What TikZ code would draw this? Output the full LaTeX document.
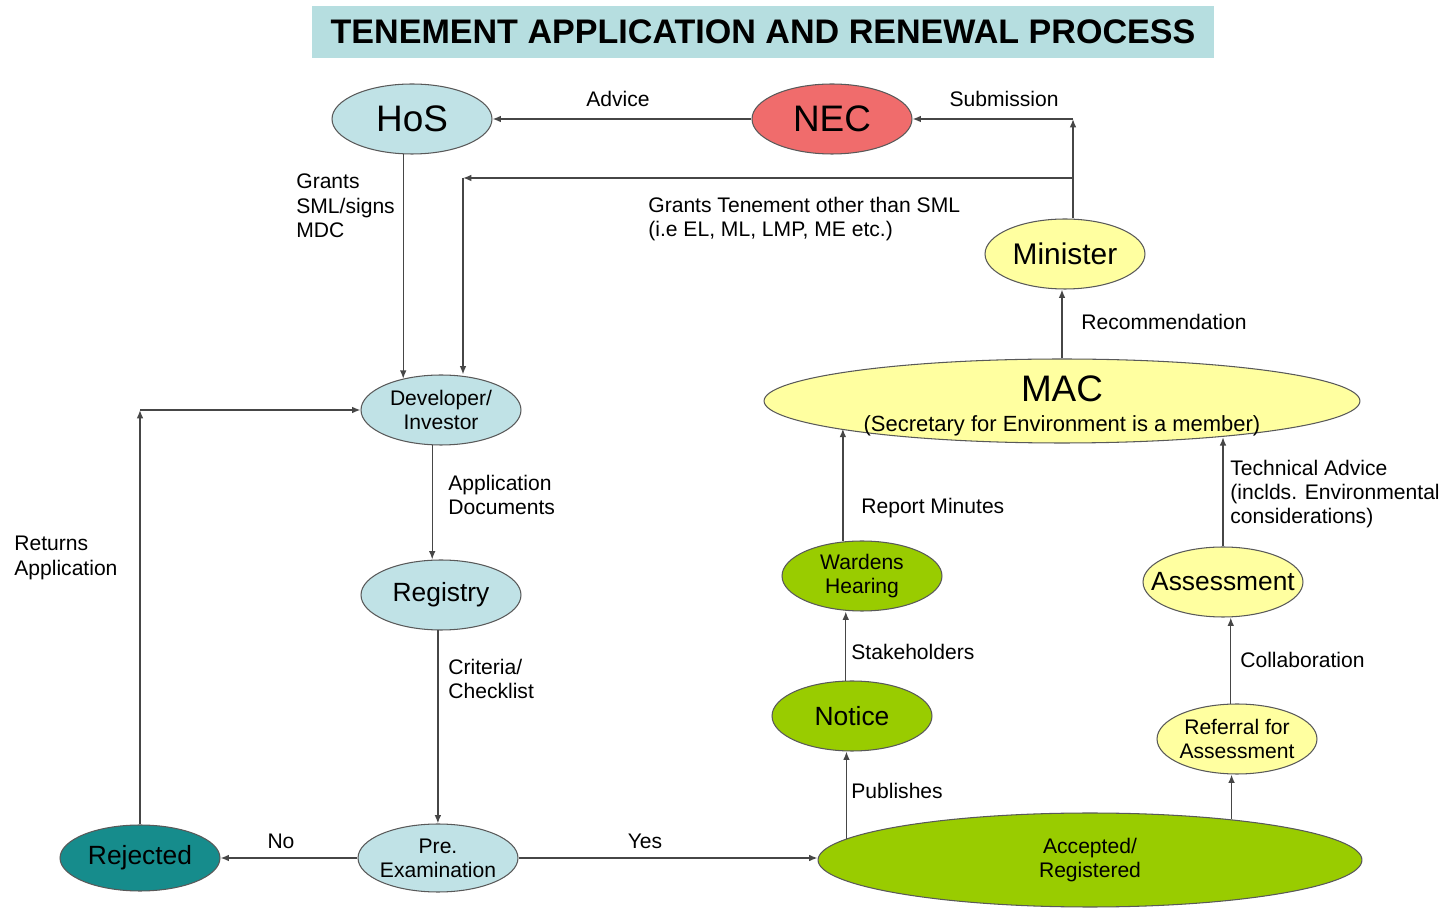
\documentclass[tikz,border=0pt]{standalone}
\usepackage{fontspec}
\setsansfont{Liberation Sans}
\usepackage{xcolor}
\definecolor{paleblue}{RGB}{192,226,230}
\definecolor{salmon}{RGB}{240,108,108}
\definecolor{paleyellow}{RGB}{255,255,160}
\definecolor{leafgreen}{RGB}{153,204,0}
\definecolor{darkteal}{RGB}{22,140,140}
\definecolor{titlebg}{RGB}{182,222,224}
\definecolor{linegray}{RGB}{70,70,70}
\usepackage{tikz}
\usetikzlibrary{shapes.geometric, arrows.meta}

\begin{document}
\begin{tikzpicture}[
    x=0.02cm, y=-0.02cm,
    oval/.style={
      ellipse,
      draw=linegray!90,
      line width=0.6pt,
      inner xsep=-0.5cm,
      inner ysep=-0.2cm,
      minimum width=3.2cm,
      minimum height=1.4cm,
      align=center,
      font=\sffamily\fontsize{12}{13.7}\selectfont
    },
    bluenode/.style={oval, fill=paleblue},
    rednode/.style={oval, fill=salmon},
    yellownode/.style={oval, fill=paleyellow},
    greennode/.style={oval, fill=leafgreen},
    tealnode/.style={oval, fill=darkteal},
    titlebox/.style={
      rectangle,
      fill=titlebg,
      minimum width=18.06cm,
      minimum height=1.04cm,
      font=\sffamily\bfseries\fontsize{19.4}{22}\selectfont
    },
    lbl/.style={
      inner sep=0pt,
      align=left,
      font=\sffamily\fontsize{12}{13.9}\selectfont
    },
    arrow/.style={
      -{Latex[length=4.8pt,width=3.8pt]},
      draw=linegray,
      line width=0.8pt
    }
  ]

    \useasboundingbox (0,0) rectangle (1445,908);

    % Title
    \node (title) [titlebox] at (763,32) {TENEMENT APPLICATION AND RENEWAL PROCESS};

    % Top row
    \node (hos) [bluenode, font=\sffamily\fontsize{21}{24}\selectfont] at (412,119) {HoS};
    \node (nec) [rednode, font=\sffamily\fontsize{21}{24}\selectfont] at (832,119) {NEC};
    \node (minister) [yellownode, font=\sffamily\fontsize{17}{20}\selectfont] at (1065,254) {Minister};
    \node (mac) [yellownode, minimum width=11.92cm, minimum height=1.68cm,
      font=\sffamily\fontsize{12.5}{17.3}\selectfont] at (1062,401)
      {\rule{0pt}{20.5pt}{\fontsize{21}{21}\selectfont MAC}\\(Secretary for Environment is a member)};

    % Left column
    \node (dev) [bluenode] at (441,410) {Developer/\\Investor};
    \node (registry) [bluenode, font=\sffamily\fontsize{15}{18}\selectfont] at (441,595) {Registry};
    \node (preexam) [bluenode, minimum height=1.36cm] at (438,858) {Pre.\\Examination};
    \node (rejected) [tealnode, minimum height=1.32cm, font=\sffamily\fontsize{15}{18}\selectfont] at (140,858) {Rejected};

    % Right side
    \node (wardens) [greennode] at (862,576) {Wardens\\Hearing};
    \node (notice) [greennode, font=\sffamily\fontsize{15}{18}\selectfont] at (852,716) {Notice};
    \node (assessment) [yellownode, font=\sffamily\fontsize{15}{18}\selectfont] at (1223,582) {Assessment};
    \node (referral) [yellownode] at (1237,739) {Referral for\\Assessment};
    \node (accepted) [greennode, minimum width=10.88cm, minimum height=1.88cm] at (1090,860) {Accepted/\\Registered};

    % Corners
    \coordinate (subm) at (1073,119);
    \coordinate (tjoin) at (1073,178);
    \coordinate (tcorner) at (463,178);
    \coordinate (retcorner) at (rejected.north |- dev.west);

    % Connections
    \draw [arrow] (nec) -- (hos);
    \draw [arrow] (minister.north -| subm) -- (subm);
    \draw [arrow] (subm) -- (nec);
    \draw [arrow] (tjoin) -- (tcorner);
    \draw [arrow] (tcorner) -- (tcorner |- dev.north);
    \draw [arrow] (hos.-104) -- (hos.-104 |- dev.141);
    \draw [arrow] (dev.-104) -- (dev.-104 |- registry.north);
    \draw [arrow] (registry.-95) -- (registry.-95 |- preexam.north);
    \draw [arrow] (preexam) -- (rejected);
    \draw [arrow] (preexam.east) -- (preexam.east -| accepted.west);
    \draw [arrow] (rejected.north) -- (retcorner);
    \draw [arrow] (retcorner) -- (dev.west);
    \draw [arrow] (accepted.175) -- (accepted.175 |- notice.south);
    \draw [arrow] (notice.100) -- (notice.100 |- wardens.south);
    \draw [arrow] (wardens.119) -- (wardens.119 |- mac.-173);
    \draw [arrow] (accepted.16) -- (accepted.16 |- referral.south);
    \draw [arrow] (referral.100) -- (referral.100 |- assessment.south);
    \draw [arrow] (assessment.north) -- (assessment.north |- mac.-13);
    \draw [arrow] (mac.north) -- (mac.north |- minister.south);

    % Labels
    \node (advicelbl) [lbl] at (618,99) {Advice};
    \node (submlbl) [lbl] at (1004,99) {Submission};
    \node (smllbl) [lbl, anchor=west] at (296,206) {Grants\\SML/signs\\MDC};
    \node (tenlbl) [lbl, anchor=west] at (648,219) {Grants Tenement other than SML\\(i.e EL, ML, LMP, ME etc.)};
    \node (applbl) [lbl, anchor=west] at (448,495) {Application\\Documents};
    \node (critlbl) [lbl, anchor=west] at (448,679) {Criteria/\\Checklist};
    \node (retlbl) [lbl, anchor=west] at (14,558) {Returns\\Application};
    \node (nolbl) [lbl] at (281,841) {No};
    \node (yeslbl) [lbl] at (645,841) {Yes};
    \node (publbl) [lbl, anchor=west] at (851,791) {Publishes};
    \node (stakelbl) [lbl, anchor=west] at (851,652) {Stakeholders};
    \node (replbl) [lbl, anchor=west] at (861,508) {Report Minutes};
    \node (collablbl) [lbl, anchor=west] at (1240,660) {Collaboration};
    \node (techlbl) [lbl, anchor=west] at (1230,494) {Technical Advice\\(inclds. Environmental\\considerations)};
    \node (reclbl) [lbl, anchor=west] at (1081,322) {Recommendation};

  \end{tikzpicture}
\end{document}
